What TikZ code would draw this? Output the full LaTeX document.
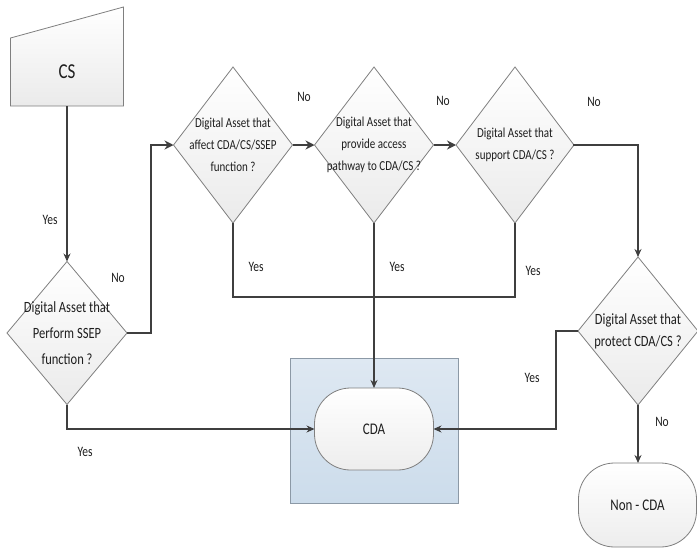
\documentclass[tikz,border=0pt]{standalone}
\usepackage{fontspec}
\setmainfont{Carlito}
\usetikzlibrary{shapes.geometric,arrows.meta,calc,backgrounds}
\definecolor{lnc}{HTML}{3F3F3F}
\definecolor{edgec}{HTML}{7F7F7F}
\definecolor{txtc}{HTML}{1E1E1E}
\definecolor{bluetop}{HTML}{DEE8F2}
\definecolor{bluebot}{HTML}{CCDCEB}
\definecolor{bluebrd}{HTML}{8C99A6}
\newcommand\vst[1]{\scalebox{1}[1.25]{#1}}
\begin{document}
\begin{tikzpicture}[x=1pt,y=-1pt,
 dia/.style={diamond, draw=edgec, line width=0.8pt, top color=white, bottom color=black!8, inner sep=0pt, outer sep=0pt},
 lbl/.style={align=center, text=txtc, font=\fontsize{11}{22}\selectfont},
 yn/.style={text=txtc, font=\fontsize{11.5}{14}\selectfont},
 term/.style={draw=edgec, line width=0.8pt, rounded corners=36pt, top color=white, bottom color=black!7, text=txtc, font=\fontsize{13}{15}\selectfont, inner sep=0pt, outer sep=0pt},
 conn/.style={draw=lnc, line width=1.3pt},
 connthick/.style={draw=lnc, line width=2.2pt},
 tipped/.style={-{Stealth[length=8pt,width=7pt]}},
 tippedthick/.style={-{Stealth[length=9pt,width=9pt]}}
]
\useasboundingbox (0,0) rectangle (697,549);

% CS manual input
\node[minimum width=113pt, minimum height=68pt, inner sep=0pt, outer sep=0pt, text=txtc, font=\fontsize{17}{20}\selectfont] (cs) at (67,72) {\vst{CS}};
\begin{scope}[on background layer]
\path[draw=edgec, line width=0.8pt, top color=white, bottom color=black!8]
  (cs.south west) -- (cs.north west) -- ($(cs.north east)+(0,-31)$) -- (cs.south east) -- cycle;
\end{scope}

% diamonds
\node[dia, minimum width=120pt, minimum height=143pt,
  label={[lbl, font=\fontsize{12.5}{26}\selectfont]center:{\vst{Digital Asset that}\\\vst{Perform SSEP}\\\vst{function ?}}}] (d1) at (67,333) {};
\node[dia, minimum width=119pt, minimum height=156pt,
  label={[lbl]center:{\vst{Digital Asset that}\\\vst{affect CDA/CS/SSEP}\\\vst{function ?}}}] (d2) at (233,145) {};
\node[dia, minimum width=119pt, minimum height=156pt,
  label={[lbl]center:{\vst{Digital Asset that}\\\vst{provide access}\\\vst{pathway to CDA/CS ?}}}] (d3) at (374,145) {};
\node[dia, minimum width=118pt, minimum height=156pt,
  label={[lbl]center:{\vst{Digital Asset that}\\\vst{support CDA/CS ?}}}] (d4) at (515,145) {};
\node[dia, minimum width=120pt, minimum height=148pt,
  label={[lbl, font=\fontsize{12.5}{22}\selectfont]center:{\vst{Digital Asset that}\\\vst{protect CDA/CS ?}}}] (d5) at (638,331) {};

% CDA group box and terminals
\node[draw=bluebrd, line width=0.8pt, top color=bluetop, bottom color=bluebot, minimum width=168pt, minimum height=145pt, inner sep=0pt] (cdabox) at (374,430.5) {};
\node[term, minimum width=119pt, minimum height=82pt] (cda) at (374,429) {\vst{CDA}};
\node[term, minimum width=118pt, minimum height=84pt] (ncda) at (637.5,505) {\vst{Non - CDA}};

% connectors
\draw[conn, tipped] (cs.south) -- (d1.north);
\draw[connthick, tippedthick] (d1.east) -- ++(24,0) |- (d2.west);
\draw[connthick, tippedthick] (d2.east) -- (d3.west);
\draw[connthick, tippedthick] (d3.east) -- (d4.west);
\coordinate (k4) at (d4.east -| d5.north);
\draw[connthick, line cap=rect] (d4.east) -- (k4);
\draw[conn, tipped] (k4) -- (d5.north);
\coordinate (yj) at (0,297);
\draw[conn] (d2.south) -- (d2.south |- yj) -- (d4.south |- yj) -- (d4.south);
\draw[conn, tipped] (d3.south) -- (cda.north);
\draw[conn, tipped] (d1.south) |- (cda.west);
\draw[conn, tipped] (d5.west) -- ++(-22,0) |- (cda.east);
\draw[conn, tipped] (d5.south) -- (d5.south |- ncda.north);

% labels
\node[yn] (y1) at (50,220) {\vst{Yes}};
\node[yn] (n1) at (118,278) {\vst{No}};
\node[yn] (y2) at (85,452) {\vst{Yes}};
\node[yn] (n2) at (304,97) {\vst{No}};
\node[yn] (n3) at (443,101) {\vst{No}};
\node[yn] (n4) at (594,102) {\vst{No}};
\node[yn] (y3) at (256,267) {\vst{Yes}};
\node[yn] (y4) at (397,267) {\vst{Yes}};
\node[yn] (y5) at (533,271) {\vst{Yes}};
\node[yn] (y6) at (532,378) {\vst{Yes}};
\node[yn] (n5) at (662,422) {\vst{No}};
\end{tikzpicture}
\end{document}
